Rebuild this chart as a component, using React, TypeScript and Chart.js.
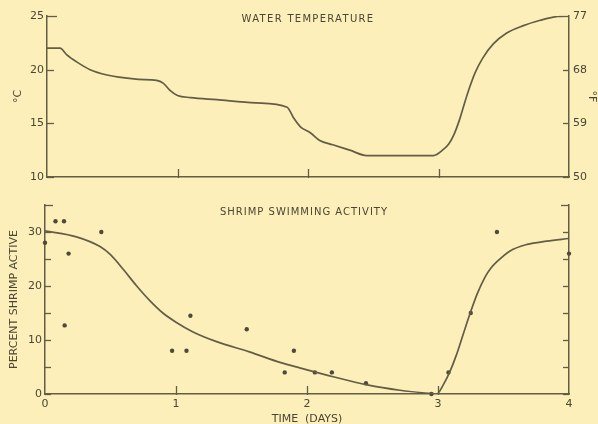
import React, { useEffect, useRef } from "react";
import { Chart, registerables } from "chart.js";

Chart.register(...registerables);

// ---- Data ----
const tempDays = [0, 0.1, 0.15, 0.23, 0.33, 0.46, 0.55, 0.7, 0.84, 0.89, 0.94, 1.0, 1.1, 1.3, 1.6, 1.84, 1.89, 1.94, 2.02, 2.09, 2.19, 2.32, 2.45, 2.7, 2.96, 3.04, 3.08, 3.12, 3.16, 3.2, 3.24, 3.28, 3.34, 3.42, 3.52, 3.65, 3.78, 3.88, 4.0];
const tempC = [22, 22, 21.4, 20.7, 20, 19.5, 19.3, 19.1, 19.0, 18.75, 18.1, 17.6, 17.4, 17.2, 16.9, 16.5, 15.5, 14.7, 14.1, 13.4, 13.0, 12.5, 12.0, 12.0, 12.0, 12.6, 13.1, 14.0, 15.3, 16.9, 18.4, 19.7, 21.1, 22.4, 23.4, 24.1, 24.6, 24.9, 25];

const curveDays = [0, 0.24, 0.42, 0.5, 0.6, 0.7, 0.8, 0.9, 1.0, 1.13, 1.31, 1.56, 1.8, 1.95, 2.2, 2.46, 2.71, 2.94, 2.99, 3.04, 3.09, 3.14, 3.19, 3.24, 3.3, 3.36, 3.4, 3.45, 3.55, 3.68, 3.83, 4.0];
const curvePct = [30.2, 29.1, 27.3, 25.8, 23.0, 20.0, 17.3, 15.0, 13.3, 11.5, 9.7, 7.8, 5.8, 4.8, 3.2, 1.7, 0.7, 0.1, 0, 1.7, 4.1, 7.2, 10.9, 14.6, 18.6, 21.7, 23.2, 24.5, 26.5, 27.7, 28.3, 28.8];

const obsDays = [0, 0.08, 0.145, 0.15, 0.18, 0.43, 0.97, 1.08, 1.11, 1.54, 1.83, 1.9, 2.06, 2.19, 2.45, 2.95, 3.08, 3.25, 3.45, 4.0];
const obsPct = [28, 32, 32, 12.7, 26, 30, 8, 8, 14.5, 12, 4, 8, 4, 4, 2, 0, 4, 15, 30, 26];

const dayTicks = [0, 1, 2, 3, 4];
const celsiusTicks = [10, 15, 20, 25];
const fahrenheitTicks = [50, 59, 68, 77];
const pctLabelTicks = [0, 10, 20, 30];

const TOP_TITLE = "WATER TEMPERATURE";
const BOTTOM_TITLE = "SHRIMP SWIMMING ACTIVITY";

// ---- Styles ----
const BG = "#fcefb9";
const INK = "#635d46";
const TEXT = "#4a4633";
const FONT = '"DejaVu Sans"';

const inwardTicks = {
  id: "inwardTicks",
  afterDatasetsDraw(chart: any, _a: any, opts: any) {
    const ctx = chart.ctx;
    const { left, right, bottom } = chart.chartArea;
    ctx.save();
    ctx.strokeStyle = INK;
    ctx.lineWidth = 1.3;
    for (const id of Object.keys(chart.scales)) {
      const s = chart.scales[id];
      const lens = (opts && opts.len) || {};
      const len = lens[id] ?? 6;
      const endLen = (opts && opts.endLen && opts.endLen[id]) ?? len;
      s.ticks.forEach((t: any, i: number) => {
        const p = Math.round(s.getPixelForValue(t.value)) + 0.5;
        const isEnd = i === s.ticks.length - 1;
        const L = isEnd ? endLen : len;
        if (L <= 0) return;
        ctx.beginPath();
        if (s.axis === "x") {
          if (i === 0 || isEnd) return;
          ctx.moveTo(p, bottom + 1);
          ctx.lineTo(p, bottom - L);
        } else if (s.position === "left") {
          ctx.moveTo(left, p);
          ctx.lineTo(left + L, p);
        } else {
          ctx.moveTo(right, p);
          ctx.lineTo(right - L, p);
        }
        ctx.stroke();
      });
    }
    ctx.restore();
  },
};

const innerTitle = {
  id: "innerTitle",
  afterDraw(chart: any, _a: any, opts: any) {
    const { ctx, chartArea } = chart;
    ctx.save();
    ctx.font = `${opts.size}px ${FONT}`;
    try {
      (ctx as any).letterSpacing = `${opts.spacing}px`;
    } catch (e) {}
    ctx.fillStyle = TEXT;
    ctx.textAlign = "center";
    ctx.textBaseline = "middle";
    ctx.fillText(opts.text, (chartArea.left + chartArea.right) / 2 + opts.dx, chartArea.top + opts.dy);
    ctx.restore();
  },
};

const tickFont = { family: FONT, size: 11 };
const titleFont = { family: FONT, size: 11 };

function topConfig(): any {
  return {
    type: "scatter",
    data: {
      datasets: [
        {
          data: tempDays.map((d, i) => ({ x: d, y: tempC[i] })),
          showLine: true,
          borderColor: INK,
          borderWidth: 1.7,
          pointRadius: 0,
          cubicInterpolationMode: "monotone",
        },
      ],
    },
    options: {
      animation: false,
      responsive: false,
      maintainAspectRatio: false,
      layout: { padding: { top: 16, left: 0, right: 0, bottom: 0 } },
      plugins: {
        legend: { display: false },
        tooltip: { enabled: false },
        innerTitle: { text: TOP_TITLE, size: 10, spacing: 1.3, dx: 0, dy: 3 },
        inwardTicks: { len: { x: 8, y: 7, y2: 6 }, endLen: { y: 10, y2: 10 } },
      },
      scales: {
        x: {
          type: "linear",
          min: dayTicks[0],
          max: dayTicks[dayTicks.length - 1],
          afterBuildTicks: (s: any) => {
            s.ticks = dayTicks.map((v) => ({ value: v }));
          },
          afterFit: (s: any) => {
            s.height = 18;
          },
          grid: { display: false, drawTicks: false },
          border: { display: true, color: INK, width: 1.5 },
          ticks: { display: false },
        },
        y: {
          position: "left",
          min: 10,
          max: 25,
          afterBuildTicks: (s: any) => {
            s.ticks = celsiusTicks.map((v) => ({ value: v }));
          },
          afterFit: (s: any) => {
            s.width = 47;
          },
          grid: { display: false, drawTicks: false },
          border: { display: true, color: INK, width: 1.5 },
          ticks: { color: TEXT, font: tickFont, padding: 3 },
          title: { display: true, text: "°C", color: TEXT, font: titleFont, padding: { top: 12, bottom: 0 } },
        },
        y2: {
          position: "right",
          min: 50,
          max: 77,
          afterBuildTicks: (s: any) => {
            s.ticks = fahrenheitTicks.map((v) => ({ value: v }));
          },
          afterFit: (s: any) => {
            s.width = 29;
          },
          grid: { display: false, drawTicks: false },
          border: { display: true, color: INK, width: 1.5 },
          ticks: { color: TEXT, font: tickFont, padding: 4 },
          title: { display: true, text: "°F", color: TEXT, font: titleFont, padding: { top: 0, bottom: 0 } },
        },
      },
    },
    plugins: [inwardTicks, innerTitle],
  };
}

function bottomConfig(): any {
  return {
    type: "scatter",
    data: {
      datasets: [
        {
          data: curveDays.map((d, i) => ({ x: d, y: curvePct[i] })),
          showLine: true,
          borderColor: INK,
          borderWidth: 1.7,
          pointRadius: 0,
          cubicInterpolationMode: "monotone",
        },
        {
          data: obsDays.map((d, i) => ({ x: d, y: obsPct[i] })),
          showLine: false,
          pointRadius: 2.2,
          pointBackgroundColor: "#4f4a37",
          pointBorderWidth: 0,
          clip: 6,
        },
      ],
    },
    options: {
      animation: false,
      responsive: false,
      maintainAspectRatio: false,
      layout: { padding: { top: 10, left: 0, right: 0, bottom: 0 } },
      plugins: {
        legend: { display: false },
        tooltip: { enabled: false },
        innerTitle: { text: BOTTOM_TITLE, size: 10, spacing: 1.0, dx: -3, dy: 7 },
        inwardTicks: { len: { x: 8, y: 6, y2: 6 }, endLen: { y: 8, y2: 8 } },
      },
      scales: {
        x: {
          type: "linear",
          min: dayTicks[0],
          max: dayTicks[dayTicks.length - 1],
          afterBuildTicks: (s: any) => {
            s.ticks = dayTicks.map((v) => ({ value: v }));
          },
          afterFit: (s: any) => {
            s.height = 30;
          },
          grid: { display: false, drawTicks: false },
          border: { display: true, color: INK, width: 1.5 },
          ticks: { color: TEXT, font: tickFont, padding: 4, maxRotation: 0 },
          title: { display: true, text: "TIME  (DAYS)", color: TEXT, font: titleFont, padding: { top: 0, bottom: -2 } },
        },
        y: {
          position: "left",
          min: 0,
          max: 35,
          afterBuildTicks: (s: any) => {
            const t = [];
            for (let v = 0; v <= 35; v += 5) t.push({ value: v });
            s.ticks = t;
          },
          afterFit: (s: any) => {
            s.width = 45;
          },
          grid: { display: false, drawTicks: false },
          border: { display: true, color: INK, width: 1.5 },
          ticks: {
            color: TEXT,
            font: tickFont,
            padding: 3,
            callback: (v: any) => (pctLabelTicks.includes(Number(v)) ? String(v) : ""),
          },
          title: { display: true, text: "PERCENT SHRIMP ACTIVE", color: TEXT, font: titleFont, padding: { top: 8, bottom: 0 } },
        },
        y2: {
          position: "right",
          min: 0,
          max: 35,
          afterBuildTicks: (s: any) => {
            const t = [];
            for (let v = 0; v <= 35; v += 5) t.push({ value: v });
            s.ticks = t;
          },
          afterFit: (s: any) => {
            s.width = 29;
          },
          grid: { display: false, drawTicks: false },
          border: { display: true, color: INK, width: 1.5 },
          ticks: { display: false },
        },
      },
    },
    plugins: [inwardTicks, innerTitle],
  };
}

export default function App() {
  const topRef = useRef<HTMLCanvasElement | null>(null);
  const botRef = useRef<HTMLCanvasElement | null>(null);

  useEffect(() => {
    const c1 = new Chart(topRef.current as HTMLCanvasElement, topConfig());
    const c2 = new Chart(botRef.current as HTMLCanvasElement, bottomConfig());
    return () => {
      c1.destroy();
      c2.destroy();
    };
  }, []);

  return (
    <div style={{ position: "absolute", left: 0, top: 0, width: 598, height: 424, background: BG, overflow: "hidden" }}>
      <canvas ref={topRef} width={598} height={195} style={{ position: "absolute", left: 0, top: 0, width: 598, height: 195 }} />
      <canvas ref={botRef} width={598} height={229} style={{ position: "absolute", left: 0, top: 195, width: 598, height: 229 }} />
    </div>
  );
}
